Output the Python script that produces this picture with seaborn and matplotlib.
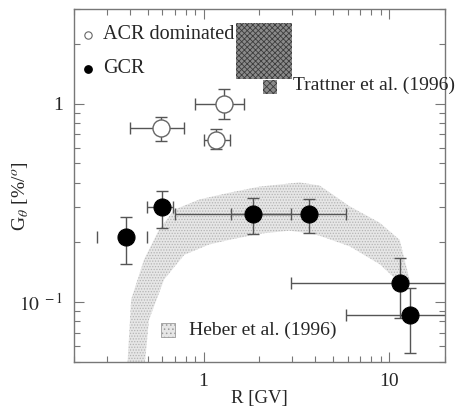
import numpy as np
import matplotlib
matplotlib.use("Agg")
import matplotlib.pyplot as plt
import seaborn as sns
import pandas as pd
from matplotlib.ticker import LogLocator, NullFormatter, FixedLocator, FixedFormatter

# GCR points (filled)
gcr_R = [0.38, 0.60, 1.84, 3.7, 11.4, 12.9]
gcr_G = [0.213, 0.30, 0.277, 0.277, 0.125, 0.0863]
gcr_R_lo = [0.267, 0.498, 0.70, 1.41, 2.97, 5.89]
gcr_R_hi = [0.498, 0.686, 2.97, 5.89, 25.0, 25.0]
gcr_G_lo = [0.156, 0.236, 0.221, 0.224, 0.083, 0.0552]
gcr_G_hi = [0.269, 0.361, 0.333, 0.329, 0.167, 0.118]
gcr_hline = [False, True, True, True, True, True]

# ACR dominated points (open)
acr_R = [0.593, 1.29, 1.17]
acr_G = [0.756, 1.0, 0.66]
acr_R_lo = [0.40, 0.90, 1.0]
acr_R_hi = [0.787, 1.66, 1.38]
acr_G_lo = [0.647, 0.84, 0.588]
acr_G_hi = [0.86, 1.19, 0.748]

# Trattner et al. (1996) box
trattner_R = [1.5, 3.0]
trattner_G = [1.33, 2.54]

# Heber et al. (1996) band outline (upper edge left->right, lower edge right->left)
heber_up_R = [0.387, 0.407, 0.478, 0.576, 0.695, 0.948, 1.38, 2.0, 3.29, 4.22, 6.13, 8.91, 11.4, 12.2, 12.9]
heber_up_G = [0.045, 0.103, 0.164, 0.232, 0.292, 0.329, 0.356, 0.382, 0.401, 0.387, 0.304, 0.251, 0.206, 0.16, 0.13]
heber_lo_R = [12.9, 11.4, 8.91, 6.13, 4.22, 3.73, 2.9, 2.0, 1.38, 1.07, 0.787, 0.613, 0.508, 0.478]
heber_lo_G = [0.122, 0.125, 0.155, 0.191, 0.216, 0.222, 0.229, 0.221, 0.206, 0.195, 0.173, 0.130, 0.0815, 0.045]

sns.set_theme(style="ticks")
plt.rcParams["font.family"] = ["Liberation Serif", "DejaVu Serif"]
plt.rcParams["mathtext.fontset"] = "stix"
plt.rcParams["hatch.linewidth"] = 0.6

fig = plt.figure(figsize=(4.62, 4.16), dpi=100)
ax = fig.add_axes([0.160, 0.1305, 0.803, 0.8475])
ax.set_xscale("log")
ax.set_yscale("log")

# Heber band
ax.fill(heber_up_R + heber_lo_R, heber_up_G + heber_lo_G, facecolor="#e6e6e6",
        edgecolor="#b4b4b4", hatch="......", linewidth=0, zorder=1)

# Trattner box
ax.fill_between(trattner_R, [trattner_G[0]] * 2, [trattner_G[1]] * 2,
                facecolor="#8a8a8a", edgecolor="#3c3c3c", hatch="xxxxxx", linewidth=0, zorder=1)

ecol = "#555555"
for i in range(len(gcr_R)):
    ax.errorbar(gcr_R[i], gcr_G[i],
                yerr=[[gcr_G[i] - gcr_G_lo[i]], [gcr_G_hi[i] - gcr_G[i]]],
                fmt="none", ecolor=ecol, elinewidth=1, capsize=4.5, capthick=1, zorder=2)
    ax.errorbar(gcr_R[i], gcr_G[i],
                xerr=[[gcr_R[i] - gcr_R_lo[i]], [gcr_R_hi[i] - gcr_R[i]]],
                fmt="none", ecolor=ecol, elinewidth=1 if gcr_hline[i] else 0,
                capsize=4.5, capthick=1, zorder=2)

ax.errorbar(acr_R, acr_G,
            xerr=[np.subtract(acr_R, acr_R_lo), np.subtract(acr_R_hi, acr_R)],
            yerr=[np.subtract(acr_G, acr_G_lo), np.subtract(acr_G_hi, acr_G)],
            fmt="none", ecolor=ecol, elinewidth=1, capsize=4.5, capthick=1, zorder=2)

gcr_df = pd.DataFrame({"R": gcr_R, "G": gcr_G})
acr_df = pd.DataFrame({"R": acr_R, "G": acr_G})
sns.scatterplot(data=gcr_df, x="R", y="G", ax=ax, s=150, color="black",
                edgecolor="black", linewidth=0.8, zorder=3)
sns.scatterplot(data=acr_df, x="R", y="G", ax=ax, s=150, color="white",
                edgecolor="#666666", linewidth=1.0, zorder=3)

ax.set_xlim(0.2, 20)
ax.set_ylim(0.05, 3.0)

# legend-like annotations
ax.scatter([0.038], [0.927], s=28, facecolor="white", edgecolor="#666666", linewidth=0.8,
           transform=ax.transAxes, zorder=4, clip_on=False)
ax.text(0.078, 0.927, "ACR dominated", transform=ax.transAxes, fontsize=14.5, va="center")
ax.scatter([0.038], [0.831], s=28, color="black", transform=ax.transAxes, zorder=4)
ax.text(0.078, 0.831, "GCR", transform=ax.transAxes, fontsize=14.5, va="center")
ax.scatter([0.528], [0.78], s=100, marker="s", facecolor="#8a8a8a", edgecolor="#3c3c3c",
           hatch="xxxxx", linewidth=0, transform=ax.transAxes, zorder=4)
ax.text(0.59, 0.785, "Trattner et al. (1996)", transform=ax.transAxes, fontsize=14, va="center",
        clip_on=False)
ax.scatter([0.253], [0.09], s=100, marker="s", facecolor="#e6e6e6", edgecolor="#9a9a9a",
           hatch="....", linewidth=0.6, transform=ax.transAxes, zorder=4)
ax.text(0.31, 0.09, "Heber et al. (1996)", transform=ax.transAxes, fontsize=14, va="center")

# ticks
ax.xaxis.set_major_locator(FixedLocator([1, 10]))
ax.xaxis.set_major_formatter(FixedFormatter(["1", "10"]))
ax.xaxis.set_minor_locator(LogLocator(base=10, subs=np.arange(2, 10)))
ax.xaxis.set_minor_formatter(NullFormatter())
ax.yaxis.set_major_locator(FixedLocator([0.1, 1]))
ax.yaxis.set_major_formatter(FixedFormatter([r"$10^{\ -1}$", "1"]))
ax.yaxis.set_minor_locator(LogLocator(base=10, subs=np.arange(2, 10)))
ax.yaxis.set_minor_formatter(NullFormatter())
ax.tick_params(which="both", direction="in", top=True, right=True, color="#777777",
               labelsize=14, pad=8)
ax.tick_params(which="major", length=7, width=0.8)
ax.tick_params(which="minor", length=4, width=0.8)
for s in ax.spines.values():
    s.set_color("#777777")
    s.set_linewidth(1.0)

ax.set_xlabel("R [GV]", fontsize=13.5, labelpad=0)
ax.set_ylabel(r"G$_\theta$ [%/$^o$]", fontsize=14)
ax.yaxis.set_label_coords(-0.115, 0.47)

fig.savefig("out.png", dpi=100)
